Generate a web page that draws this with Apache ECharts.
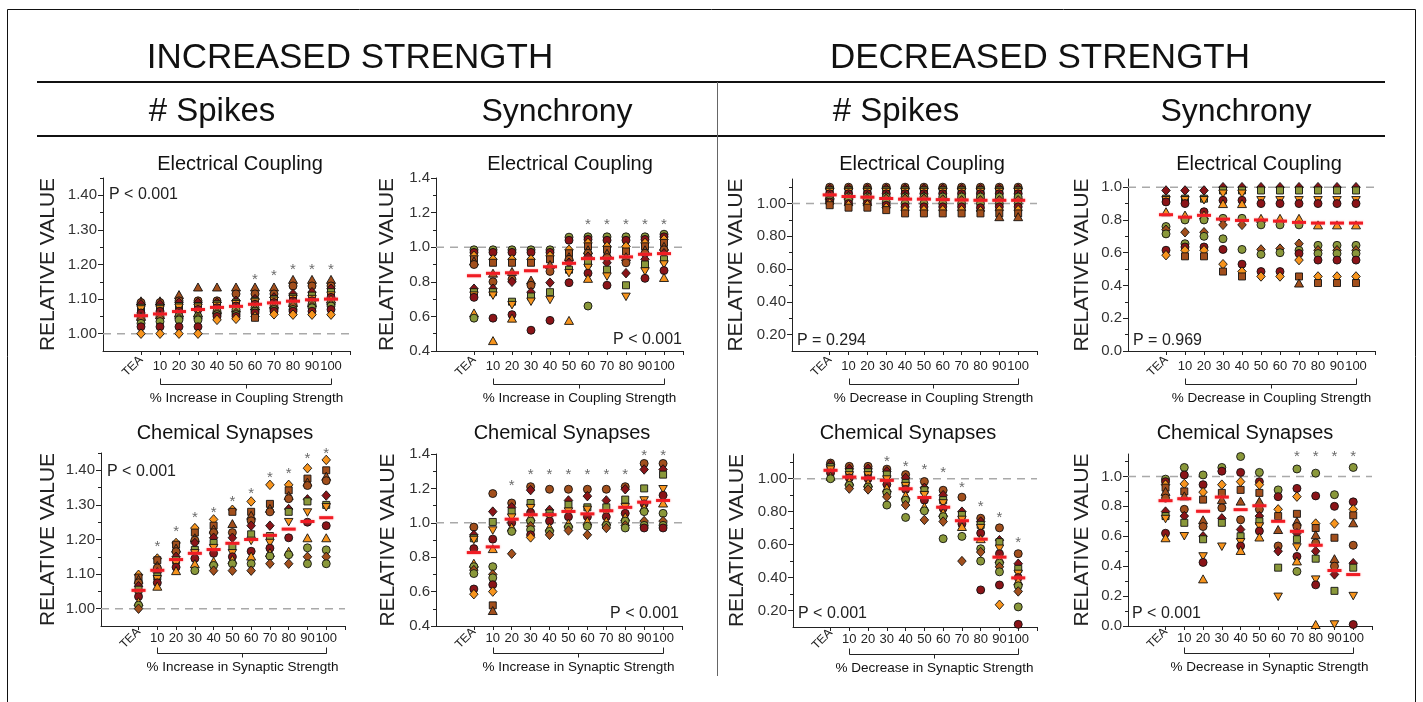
<!DOCTYPE html>
<html><head><meta charset="utf-8">
<script src="https://cdn.jsdelivr.net/npm/echarts@6/dist/echarts.min.js"></script>
<style>html,body{margin:0;padding:0;background:#fff}#c{width:1423px;height:702px}</style>
</head><body><div id="c"></div>
<script>
const xLabels = ['TEA','10','20','30','40','50','60','70','80','90','100'];
const refValue = 1.0;

// A: increased strength, # spikes, electrical coupling
const incSpikesElec = [
 [1.095,1.09,1.085,1.075,1.07,1.06,1.05,1.045,1.04,1.03,1.02,1.00],
 [1.095,1.09,1.085,1.075,1.07,1.065,1.055,1.05,1.045,1.035,1.02,1.00],
 [1.113,1.095,1.09,1.08,1.075,1.065,1.06,1.05,1.045,1.04,1.02,1.00],
 [1.135,1.095,1.09,1.08,1.075,1.07,1.06,1.05,1.045,1.04,1.02,1.00],
 [1.135,1.095,1.09,1.085,1.08,1.075,1.07,1.065,1.06,1.055,1.05,1.04],
 [1.135,1.115,1.095,1.09,1.085,1.08,1.075,1.07,1.06,1.055,1.05,1.043],
 [1.135,1.115,1.10,1.095,1.09,1.085,1.08,1.075,1.07,1.065,1.06,1.05,1.046],
 [1.135,1.115,1.105,1.10,1.095,1.09,1.085,1.08,1.075,1.07,1.065,1.056],
 [1.157,1.138,1.115,1.105,1.10,1.095,1.09,1.085,1.08,1.07,1.065,1.055],
 [1.157,1.138,1.12,1.11,1.10,1.095,1.09,1.085,1.08,1.075,1.065,1.055],
 [1.157,1.138,1.13,1.12,1.11,1.105,1.10,1.09,1.085,1.08,1.07,1.055]
];
const incSpikesElecMed = [1.052,1.057,1.064,1.07,1.076,1.079,1.085,1.089,1.094,1.098,1.10];
const incSpikesElecStar = [null,null,null,null,null,null,1.166,1.18,1.195,1.195,1.195];

// B: increased strength, synchrony, electrical coupling
const incSyncElec = [
 [0.985,0.97,0.95,0.93,0.92,0.90,0.76,0.74,0.72,0.71,0.62,0.59],
 [0.985,0.97,0.93,0.91,0.85,0.80,0.76,0.74,0.72,0.59,0.46],
 [0.985,0.97,0.93,0.91,0.86,0.815,0.80,0.685,0.665,0.61,0.59],
 [0.985,0.97,0.93,0.91,0.81,0.78,0.74,0.715,0.685,0.52],
 [0.985,0.97,0.95,0.93,0.90,0.86,0.795,0.74,0.695,0.577],
 [1.058,1.04,0.985,0.965,0.945,0.93,0.91,0.87,0.85,0.795,0.577],
 [1.06,1.045,1.025,1.005,0.985,0.965,0.945,0.91,0.88,0.85,0.82,0.66],
 [1.06,1.04,1.005,0.985,0.965,0.94,0.91,0.87,0.83,0.78],
 [1.06,1.04,1.005,0.975,0.945,0.91,0.85,0.78,0.713],
 [1.06,1.045,1.025,1.005,0.985,0.965,0.93,0.90,0.86,0.82],
 [1.075,1.06,1.045,1.025,1.005,0.985,0.965,0.93,0.90,0.865,0.825]
];
const incSyncElecMed = [0.835,0.849,0.852,0.864,0.887,0.907,0.934,0.936,0.944,0.959,0.963];
const incSyncElecStar = [null,null,null,null,null,null,1.153,1.153,1.153,1.153,1.153];

// C: decreased strength, # spikes, electrical coupling
const decSpikesElec = [
 [1.10,1.09,1.08,1.07,1.06,1.05,1.04,1.03,1.02,1.01,1.00,0.99],
 [1.10,1.09,1.08,1.07,1.06,1.05,1.04,1.03,1.02,1.00,0.99,0.975],
 [1.10,1.09,1.08,1.07,1.06,1.05,1.04,1.03,1.02,1.00,0.99,0.975],
 [1.10,1.09,1.08,1.07,1.06,1.05,1.04,1.03,1.01,0.99,0.975,0.96],
 [1.10,1.09,1.08,1.07,1.06,1.05,1.04,1.03,1.00,0.98,0.96,0.94],
 [1.10,1.09,1.08,1.07,1.06,1.05,1.04,1.03,1.00,0.98,0.96,0.94],
 [1.10,1.09,1.08,1.07,1.06,1.05,1.04,1.025,1.00,0.98,0.96,0.94],
 [1.10,1.09,1.08,1.07,1.06,1.05,1.04,1.02,1.00,0.98,0.96,0.94],
 [1.10,1.09,1.08,1.07,1.06,1.05,1.04,1.02,1.00,0.975,0.955,0.94],
 [1.10,1.09,1.08,1.07,1.06,1.05,1.04,1.02,1.00,0.98,0.96,0.94,0.92],
 [1.10,1.09,1.08,1.07,1.06,1.05,1.04,1.02,1.00,0.98,0.96,0.94,0.92]
];
const decSpikesElecMed = [1.053,1.043,1.039,1.031,1.027,1.027,1.024,1.022,1.02,1.02,1.02];
const decSpikesElecStar = [null,null,null,null,null,null,null,null,null,null,null];

// D: decreased strength, synchrony, electrical coupling
const decSyncElec = [
 [0.98,0.93,0.92,0.91,0.85,0.76,0.74,0.715,0.615,0.585],
 [0.98,0.93,0.92,0.90,0.83,0.80,0.725,0.655,0.635,0.615,0.578],
 [0.98,0.93,0.92,0.85,0.83,0.80,0.725,0.70,0.635,0.615,0.578],
 [1.00,0.98,0.96,0.92,0.90,0.81,0.77,0.685,0.62,0.53,0.485],
 [1.00,0.98,0.96,0.92,0.90,0.81,0.77,0.62,0.53,0.485,0.455],
 [1.00,0.98,0.92,0.90,0.81,0.77,0.62,0.59,0.485,0.455],
 [1.00,0.98,0.92,0.90,0.81,0.77,0.625,0.60,0.485,0.455],
 [1.00,0.98,0.92,0.90,0.81,0.77,0.655,0.615,0.595,0.555,0.455,0.415],
 [1.00,0.98,0.92,0.90,0.77,0.645,0.615,0.595,0.555,0.455,0.415],
 [1.00,0.98,0.92,0.90,0.77,0.645,0.615,0.595,0.555,0.455,0.415],
 [1.00,0.98,0.92,0.90,0.77,0.645,0.615,0.595,0.555,0.455,0.415]
];
const decSyncElecMed = [0.832,0.817,0.828,0.805,0.797,0.80,0.793,0.785,0.781,0.781,0.781];
const decSyncElecStar = [null,null,null,null,null,null,null,null,null,null,null];

// E: increased strength, # spikes, chemical synapses
const incSpikesChem = [
 [1.098,1.09,1.085,1.075,1.065,1.055,1.045,1.035,1.02,1.01,1.00],
 [1.145,1.14,1.125,1.118,1.105,1.093,1.085,1.075,1.065],
 [1.19,1.185,1.175,1.165,1.15,1.14,1.13,1.12,1.11],
 [1.233,1.22,1.205,1.198,1.19,1.17,1.16,1.145,1.13,1.11],
 [1.258,1.24,1.23,1.22,1.205,1.19,1.175,1.16,1.137,1.125,1.11],
 [1.286,1.28,1.246,1.22,1.205,1.18,1.16,1.15,1.142,1.13,1.11],
 [1.31,1.28,1.27,1.254,1.24,1.215,1.196,1.166,1.152,1.13,1.11],
 [1.358,1.303,1.29,1.28,1.24,1.21,1.19,1.175,1.162,1.152,1.13],
 [1.358,1.342,1.327,1.318,1.288,1.28,1.25,1.205,1.166,1.156,1.13],
 [1.406,1.376,1.366,1.356,1.316,1.31,1.278,1.25,1.205,1.176,1.15,1.13],
 [1.43,1.40,1.383,1.37,1.327,1.30,1.293,1.24,1.205,1.17,1.15,1.13]
];
const incSpikesChemMed = [1.053,1.111,1.142,1.16,1.171,1.189,1.20,1.212,1.23,1.252,1.263];
const incSpikesChemStar = [null,1.189,1.235,1.273,1.288,1.32,1.343,1.39,1.40,1.446,1.458];

// F: increased strength, synchrony, chemical synapses
const incSyncChem = [
 [0.975,0.93,0.91,0.90,0.85,0.765,0.745,0.725,0.705,0.615,0.585],
 [1.17,1.065,1.005,0.955,0.905,0.85,0.745,0.70,0.68,0.64,0.60,0.52,0.49],
 [1.115,1.09,1.065,1.03,1.00,0.975,0.95,0.82],
 [1.21,1.19,1.115,1.085,1.06,1.035,1.01,0.98,0.96,0.93,0.915],
 [1.195,1.075,1.055,1.035,1.01,0.975,0.95,0.93],
 [1.195,1.13,1.105,1.065,1.035,0.998,0.975,0.955],
 [1.195,1.155,1.09,1.075,1.035,1.01,0.98,0.93],
 [1.195,1.13,1.09,1.055,1.035,1.01,0.985,0.97],
 [1.21,1.195,1.135,1.09,1.055,1.035,1.01,0.985,0.97],
 [1.345,1.31,1.20,1.13,1.11,1.09,1.065,1.01,0.985,0.97],
 [1.345,1.31,1.28,1.195,1.16,1.115,1.055,1.01,0.985,0.97]
];
const incSyncChemMed = [0.827,0.86,1.021,1.047,1.047,1.066,1.052,1.07,1.09,1.12,1.13];
const incSyncChemStar = [null,null,1.24,1.30,1.30,1.30,1.30,1.30,1.30,1.41,1.41];

// G: decreased strength, # spikes, chemical synapses
const decSpikesChem = [
 [1.095,1.085,1.07,1.055,1.035,1.015,1.00],
 [1.075,1.06,1.04,1.02,1.005,0.985,0.96,0.94],
 [1.075,1.06,1.04,1.02,1.00,0.975,0.95,0.935],
 [1.058,1.045,1.025,0.995,0.965,0.945,0.915,0.89,0.84],
 [1.025,1.005,0.975,0.955,0.935,0.90,0.87,0.84,0.765],
 [0.983,0.945,0.93,0.90,0.87,0.83,0.805,0.75],
 [0.93,0.90,0.87,0.85,0.82,0.795,0.77,0.74,0.636],
 [0.888,0.80,0.78,0.75,0.725,0.71,0.65,0.50],
 [0.76,0.74,0.72,0.70,0.67,0.636,0.575,0.555,0.50,0.325],
 [0.702,0.627,0.615,0.575,0.545,0.515,0.488,0.465,0.435,0.355,0.235],
 [0.545,0.484,0.453,0.422,0.40,0.38,0.35,0.316,0.222,0.116]
];
const decSpikesChemMed = [1.051,1.01,1.004,0.99,0.939,0.886,0.827,0.745,0.633,0.524,0.398];
const decSpikesChemStar = [null,null,null,1.127,1.096,1.076,1.061,0.97,0.855,0.786,0.637];

// H: decreased strength, synchrony, chemical synapses
const decSyncChem = [
 [0.982,0.965,0.945,0.925,0.90,0.855,0.765,0.735,0.715,0.62,0.59],
 [1.06,1.01,0.95,0.90,0.87,0.78,0.735,0.69,0.60],
 [1.01,0.945,0.895,0.845,0.71,0.665,0.60,0.58,0.465,0.425,0.315],
 [1.06,1.035,0.945,0.89,0.845,0.79,0.72,0.69,0.53],
 [1.133,1.027,0.965,0.91,0.835,0.71,0.645,0.60,0.56,0.535,0.505],
 [1.027,0.965,0.945,0.89,0.835,0.78,0.735,0.70,0.665,0.635,0.595],
 [0.91,0.865,0.78,0.735,0.645,0.535,0.50,0.39,0.195],
 [1.05,0.92,0.865,0.75,0.70,0.665,0.62,0.58,0.525,0.465,0.435,0.365],
 [1.022,0.87,0.685,0.655,0.61,0.555,0.50,0.45,0.31,0.275,0.01],
 [0.878,0.80,0.685,0.59,0.45,0.40,0.345,0.235,0.01],
 [1.06,0.83,0.78,0.74,0.69,0.54,0.42,0.39,0.20,0.01]
];
const decSyncChemMed = [0.838,0.851,0.767,0.862,0.778,0.804,0.70,0.633,0.54,0.371,0.344];
const decSyncChemStar = [null,null,null,null,null,null,null,1.156,1.156,1.156,1.156];

// axis tick values
const yTicksA = {min:0.95,max:1.45,labels:[1.0,1.1,1.2,1.3,1.4],minor:[1.05,1.15,1.25,1.35,1.45],dec:2};
const yTicksB = {min:0.4,max:1.4,labels:[0.4,0.6,0.8,1.0,1.2,1.4],minor:[0.5,0.7,0.9,1.1,1.3],dec:1};
const yTicksC = {min:0.1,max:1.15,labels:[0.2,0.4,0.6,0.8,1.0],minor:[0.3,0.5,0.7,0.9,1.1],dec:2};
const yTicksD = {min:0,max:1.05,labels:[0,0.2,0.4,0.6,0.8,1.0],minor:[0.1,0.3,0.5,0.7,0.9],dec:1};
const yTicksH = {min:0,max:1.15,labels:[0,0.2,0.4,0.6,0.8,1.0],minor:[0.1,0.3,0.5,0.7,0.9,1.1],dec:1};

const FONT = "'Liberation Sans', Arial, Helvetica, sans-serif";
const OLIVE='#8a983a', DRED='#8b1418', ORANGE='#f7941d', BROWN='#a24f1c';
const TRI_DOWN = 'path://M0,0L10,0L5,9Z';
const markerStyles = [
 ['circle', OLIVE], ['circle', DRED], ['diamond', ORANGE], ['rect', BROWN],
 ['triangle', BROWN], ['circle', BROWN], ['diamond', DRED], ['rect', OLIVE],
 [TRI_DOWN, ORANGE], ['circle', DRED], ['triangle', ORANGE], ['circle', OLIVE], ['diamond', BROWN]
];
const symSize = s => s==='circle'?8 : s==='rect'?7 : s==='diamond'?[8.5,9.5] : s==='triangle'?[9,8] : [8.5,7.5];

const panels = [
 {pts:incSpikesElec, med:incSpikesElecMed, star:incSpikesElecStar, y:yTicksA, grid:{left:103,top:178,width:247,height:173}, gap:44, row:0,
  title:'Electrical Coupling', tx:240, ty:164, p:'P < 0.001', px:109, py:195, pa:'left', xt:'% Increase in Coupling Strength', ss:4},
 {pts:incSyncElec, med:incSyncElecMed, star:incSyncElecStar, y:yTicksB, grid:{left:436,top:178,width:247,height:173}, gap:38, row:0,
  title:'Electrical Coupling', tx:570, ty:164, p:'P < 0.001', px:682, py:340, pa:'right', xt:'% Increase in Coupling Strength', ss:0},
 {pts:decSpikesElec, med:decSpikesElecMed, star:decSpikesElecStar, y:yTicksC, grid:{left:792,top:179,width:245,height:172}, gap:45, row:0,
  title:'Electrical Coupling', tx:922, ty:164, p:'P = 0.294', px:797, py:341, pa:'left', xt:'% Decrease in Coupling Strength', ss:5},
 {pts:decSyncElec, med:decSyncElecMed, star:decSyncElecStar, y:yTicksD, grid:{left:1128,top:179,width:247,height:172}, gap:35, row:0,
  title:'Electrical Coupling', tx:1259, ty:164, p:'P = 0.969', px:1133, py:341, pa:'left', xt:'% Decrease in Coupling Strength', ss:6},
 {pts:incSpikesChem, med:incSpikesChemMed, star:incSpikesChemStar, y:yTicksA, grid:{left:101,top:453,width:244,height:173}, gap:42, row:1,
  title:'Chemical Synapses', tx:225, ty:433, p:'P < 0.001', px:107, py:472, pa:'left', xt:'% Increase in Synaptic Strength', ss:2},
 {pts:incSyncChem, med:incSyncChemMed, star:incSyncChemStar, y:yTicksB, grid:{left:436,top:454,width:246,height:172}, gap:37, row:1,
  title:'Chemical Synapses', tx:562, ty:433, p:'P < 0.001', px:679, py:614, pa:'right', xt:'% Increase in Synaptic Strength', ss:5},
 {pts:decSpikesChem, med:decSpikesChemMed, star:decSpikesChemStar, y:yTicksC, grid:{left:793,top:454,width:244,height:173}, gap:45, row:1,
  title:'Chemical Synapses', tx:908, ty:433, p:'P < 0.001', px:798, py:614, pa:'left', xt:'% Decrease in Synaptic Strength', ss:5},
 {pts:decSyncChem, med:decSyncChemMed, star:decSyncChemStar, y:yTicksH, grid:{left:1128,top:454,width:244,height:172}, gap:35, row:1,
  title:'Chemical Synapses', tx:1245, ty:433, p:'P < 0.001', px:1132, py:614, pa:'left', xt:'% Decrease in Synaptic Strength', ss:0}
];

const grids=[], xAxes=[], yAxes=[], series=[];
const xTickVals = [0,1,2,3,4,5,6,7,8,9,10,11];
const xLabVals = [1,2,3,4,5,6,7,8,9,10];
panels.forEach((p,i)=>{
  grids.push(Object.assign({containLabel:false}, p.grid));
  const lm = p.row===0 ? 9 : 6;
  xAxes.push({gridIndex:i, type:'value', min:-2, max:11, position:'bottom',
    axisLine:{show:true,onZero:false,lineStyle:{color:'#222',width:1}},
    axisTick:{show:true,customValues:xTickVals,length:4,lineStyle:{color:'#222'}},
    axisLabel:{customValues:xLabVals, formatter:v=>xLabels[Math.round(v)], fontSize:13, fontFamily:FONT, color:'#222', margin:lm},
    splitLine:{show:false}});
  xAxes.push({gridIndex:i, type:'value', min:-2, max:11, position:'bottom', offset:0,
    axisLine:{show:false}, axisTick:{show:false},
    axisLabel:{customValues:[0], formatter:()=>xLabels[0], rotate:45, fontSize:12, fontFamily:FONT, color:'#222', margin:lm-2},
    splitLine:{show:false}});
  yAxes.push({gridIndex:i, type:'value', min:p.y.min, max:p.y.max, position:'left',
    axisLine:{show:true,onZero:false,lineStyle:{color:'#222',width:1}},
    axisTick:{show:true,customValues:p.y.labels,length:5,lineStyle:{color:'#222'}},
    axisLabel:{customValues:p.y.labels, formatter:v=>v.toFixed(p.y.dec), fontSize:15, fontFamily:FONT, color:'#333', margin:6},
    splitLine:{show:false},
    name:'RELATIVE VALUE', nameLocation:'middle', nameGap:p.gap,
    nameTextStyle:{fontSize:21, fontFamily:FONT, color:'#222'}});
  yAxes.push({gridIndex:i, type:'value', min:p.y.min, max:p.y.max, position:'left', offset:0,
    axisLine:{show:false,onZero:false},
    axisTick:{show:true,customValues:p.y.minor,length:3,lineStyle:{color:'#222'}},
    axisLabel:{show:false}, splitLine:{show:false}});

  const xi=2*i, yi=2*i;
  series.push({type:'line', xAxisIndex:xi, yAxisIndex:yi, data:[[-2,refValue],[11,refValue]], symbol:'none',
    lineStyle:{color:'#a9a9a9', width:1.5, type:[8,6]}, silent:true, z:1});
  const pd=[];
  p.pts.forEach((col,ci)=>{
    col.forEach((v,j)=>{
      const st = markerStyles[(p.ss+j)%markerStyles.length];
      pd.push({value:[ci,v], symbol:st[0], symbolSize:symSize(st[0]),
        itemStyle:{color:st[1], borderColor:'#111', borderWidth:0.9, opacity:1}});
    });
  });
  series.push({type:'scatter', xAxisIndex:xi, yAxisIndex:yi, data:pd, z:2, clip:false, silent:true, itemStyle:{opacity:1}});
  series.push({type:'scatter', xAxisIndex:xi, yAxisIndex:yi, data:p.med.map((m,ci)=>[ci,m]),
    symbol:'rect', symbolSize:[14,3], itemStyle:{color:'#f01c24', opacity:1, shadowColor:'rgba(255,110,110,0.7)', shadowBlur:2}, z:3, clip:false, silent:true});
  const sd=[];
  p.star.forEach((s,ci)=>{ if(s!==null) sd.push([ci,s]); });
  series.push({type:'scatter', xAxisIndex:xi, yAxisIndex:yi, data:sd, symbol:'circle', symbolSize:1,
    itemStyle:{color:'rgba(0,0,0,0)'}, z:4, clip:false, silent:true,
    label:{show:true, formatter:'*', position:'inside', fontSize:15, fontFamily:FONT, color:'#444', offset:[0,4]}});
});

const chart = echarts.init(document.getElementById('c'), null, {renderer:'canvas'});
chart.setOption({animation:false, backgroundColor:'#fff', grid:grids, xAxis:xAxes, yAxis:yAxes, series:series});

const txt = (text,x,y,size,align,extra)=>Object.assign({type:'text', x:x, y:y, z:10, silent:true,
  style:{text:text, fontSize:size, fontFamily:FONT, fill:'#111', align:align||'center', verticalAlign:'middle'}}, extra||{});
const g = [
 {type:'rect', shape:{x:7.5,y:9.5,width:1408,height:720}, style:{fill:'none',stroke:'#111',lineWidth:1}, silent:true},
 {type:'line', shape:{x1:37,y1:82,x2:1385,y2:82}, style:{stroke:'#111',lineWidth:2}, silent:true},
 {type:'line', shape:{x1:37,y1:136,x2:1385,y2:136}, style:{stroke:'#111',lineWidth:2}, silent:true},
 {type:'line', shape:{x1:717.5,y1:82,x2:717.5,y2:676}, style:{stroke:'#666',lineWidth:1}, silent:true},
 txt('INCREASED STRENGTH',350,58,35),
 txt('DECREASED STRENGTH',1040,58,35),
 txt('# Spikes',212,112,33),
 txt('Synchrony',557,112,32),
 txt('# Spikes',896,112,33),
 txt('Synchrony',1236,112,32)
];
panels.forEach((p,i)=>{
  g.push(txt(p.title,p.tx,p.ty,20));
  g.push(txt(p.p,p.px,p.py,16,p.pa,{style:{text:p.p,fontSize:16,fontFamily:FONT,fill:'#222',align:p.pa,verticalAlign:'middle'}}));
  const a = chart.convertToPixel({xAxisIndex:2*i, yAxisIndex:2*i}, [1, p.y.min]);
  const b = chart.convertToPixel({xAxisIndex:2*i, yAxisIndex:2*i}, [10, p.y.min]);
  const by = Math.round(a[1] + (p.row===0 ? 33 : 27)) + 0.5;
  const x1 = Math.round(a[0])+0.5, x2 = Math.round(b[0])+0.5, mx = Math.round((a[0]+b[0])/2)+0.5;
  g.push({type:'polyline', silent:true, shape:{points:[[x1,by-6],[x1,by],[x2,by],[x2,by-6]]}, style:{stroke:'#222',lineWidth:1,fill:null}});
  g.push({type:'line', silent:true, shape:{x1:mx,y1:by,x2:mx,y2:by+4}, style:{stroke:'#222',lineWidth:1}});
  g.push(txt(p.xt, mx, by+14, 13.5));
});
chart.setOption({graphic:g});
</script></body></html>
